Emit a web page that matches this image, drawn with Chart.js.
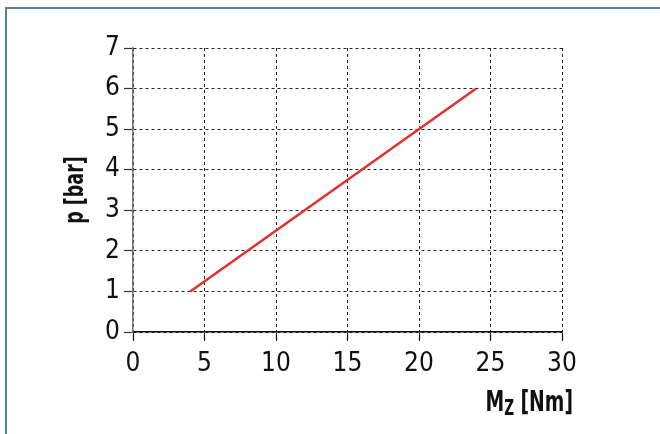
<!DOCTYPE html>
<html>
<head>
<meta charset="utf-8">
<script src="https://cdn.jsdelivr.net/npm/chart.js@4"></script>
<style>
  html, body { margin: 0; padding: 0; background: #fff; }
  #wrap { width: 660px; height: 434px; position: relative; }
</style>
</head>
<body>
<div id="wrap"><canvas id="chart" width="660" height="434"></canvas></div>
<script>
const torqueNm = [4, 24];
const pressureBar = [1, 6];
const xTicks = [0, 5, 10, 15, 20, 25, 30];
const yTicks = [0, 1, 2, 3, 4, 5, 6, 7];
const yTitle = 'p [bar]';

const FONT = "'Liberation Sans Narrow', 'DejaVu Sans Condensed', sans-serif";

// frame around the figure + axis titles (narrowed, x one has a subscript)
const decorations = {
  id: 'decorations',
  beforeDraw(chart) {
    const ctx = chart.ctx;
    ctx.save();
    ctx.strokeStyle = '#5b7fa0';
    ctx.lineWidth = 2;
    ctx.beginPath();
    ctx.moveTo(6, 440);
    ctx.lineTo(6, 8);
    ctx.lineTo(670, 8);
    ctx.stroke();
    ctx.restore();
  },
  afterDraw(chart) {
    const ctx = chart.ctx;
    const squeeze = 0.72;
    const big = 'bold 29px ' + FONT;
    const small = 'bold 21px ' + FONT;

    // x title: M_Z [Nm], right aligned
    ctx.save();
    ctx.fillStyle = '#111';
    ctx.textBaseline = 'alphabetic';
    ctx.font = big;
    const wM = ctx.measureText('M').width;
    const wRest = ctx.measureText(' [Nm]').width;
    ctx.font = small;
    const wZ = ctx.measureText('Z').width;
    const total = (wM + wZ + wRest) * squeeze;
    ctx.translate(573 - total, 411);
    ctx.scale(squeeze, 1);
    let x = 0;
    ctx.font = big;
    ctx.fillText('M', x, 0);
    x += wM;
    ctx.font = small;
    ctx.fillText('Z', x, 4);
    x += wZ;
    ctx.font = big;
    ctx.fillText(' [Nm]', x, 0);
    ctx.restore();

    // y title, rotated
    const area = chart.chartArea;
    ctx.save();
    ctx.fillStyle = '#111';
    ctx.font = 'bold 27px ' + FONT;
    ctx.textAlign = 'center';
    ctx.textBaseline = 'middle';
    ctx.translate(76, (area.top + area.bottom) / 2);
    ctx.rotate(-Math.PI / 2);
    ctx.scale(squeeze, 1);
    ctx.fillText(yTitle, 0, 0);
    ctx.restore();
  }
};

new Chart(document.getElementById('chart'), {
  type: 'scatter',
  data: {
    datasets: [{
      data: torqueNm.map((t, i) => ({ x: t, y: pressureBar[i] })),
      showLine: true,
      borderColor: '#e1302e',
      borderWidth: 2.5,
      pointRadius: 0,
      fill: false
    }]
  },
  options: {
    responsive: false,
    animation: false,
    layout: { padding: { left: 0, right: 98, top: 48, bottom: 0 } },
    plugins: { legend: { display: false }, tooltip: { enabled: false } },
    scales: {
      x: {
        type: 'linear',
        min: 0,
        max: 30,
        afterBuildTicks(scale) { scale.ticks = xTicks.map(v => ({ value: v })); },
        afterFit(scale) { scale.height = 102; },
        grid: { color: '#222', lineWidth: 1, tickLength: 9, tickColor: '#111', tickWidth: 1.2, tickBorderDash: [] },
        border: { color: '#111', width: 1.5, dash: [3, 3] },
        ticks: { color: '#111', padding: 8, font: { family: FONT, size: 26 } }
      },
      y: {
        type: 'linear',
        min: 0,
        max: 7,
        afterBuildTicks(scale) { scale.ticks = yTicks.map(v => ({ value: v })); },
        afterFit(scale) { scale.width = 133; },
        grid: { color: '#222', lineWidth: 1, tickLength: 9, tickColor: '#333', tickWidth: 1.2, tickBorderDash: [] },
        border: { color: '#777', width: 1.5, dash: [3, 3] },
        ticks: { color: '#111', padding: 4, font: { family: FONT, size: 26 } }
      }
    }
  },
  plugins: [decorations]
});
</script>
</body>
</html>
